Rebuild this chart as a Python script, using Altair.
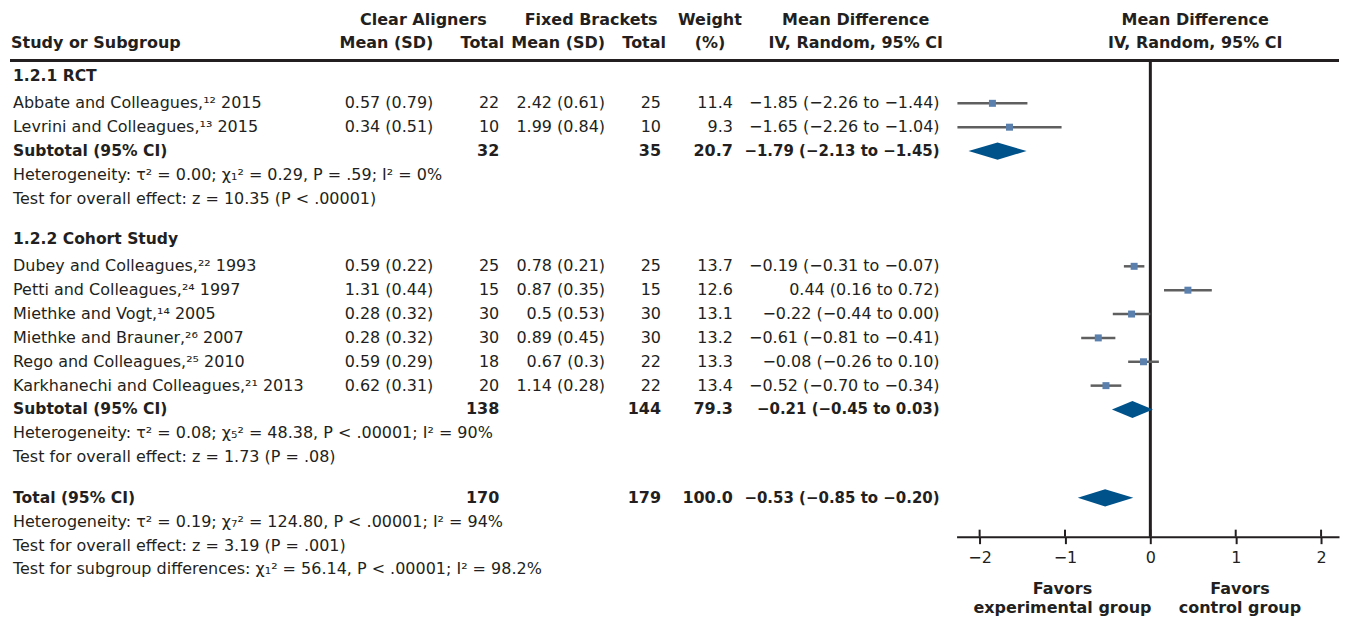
import altair as alt
import pandas as pd

# ---------------- data ----------------
study = [
    "Abbate and Colleagues,¹² 2015",
    "Levrini and Colleagues,¹³ 2015",
    "Dubey and Colleagues,²² 1993",
    "Petti and Colleagues,²⁴ 1997",
    "Miethke and Vogt,¹⁴ 2005",
    "Miethke and Brauner,²⁶ 2007",
    "Rego and Colleagues,²⁵ 2010",
    "Karkhanechi and Colleagues,²¹ 2013",
]
group = [0, 0, 1, 1, 1, 1, 1, 1]
ca_mean = [0.57, 0.34, 0.59, 1.31, 0.28, 0.28, 0.59, 0.62]
ca_sd = [0.79, 0.51, 0.22, 0.44, 0.32, 0.32, 0.29, 0.31]
ca_n = [22, 10, 25, 15, 30, 30, 18, 20]
fb_mean = [2.42, 1.99, 0.78, 0.87, 0.5, 0.89, 0.67, 1.14]
fb_sd = [0.61, 0.84, 0.21, 0.35, 0.53, 0.45, 0.3, 0.28]
fb_n = [25, 10, 25, 15, 30, 30, 22, 22]
weight = [11.4, 9.3, 13.7, 12.6, 13.1, 13.2, 13.3, 13.4]
md = [-1.85, -1.65, -0.19, 0.44, -0.22, -0.61, -0.08, -0.52]
md_lo = [-2.26, -2.26, -0.31, 0.16, -0.44, -0.81, -0.26, -0.70]
md_hi = [-1.44, -1.04, -0.07, 0.72, 0.00, -0.41, 0.10, -0.34]

section_titles = ["1.2.1 RCT", "1.2.2 Cohort Study"]
sub_labels = ["Subtotal (95% CI)", "Subtotal (95% CI)", "Total (95% CI)"]
sub_ca_n = [32, 138, 170]
sub_fb_n = [35, 144, 179]
sub_weight = [20.7, 79.3, 100.0]
sub_md = [-1.79, -0.21, -0.53]
sub_lo = [-2.13, -0.45, -0.85]
sub_hi = [-1.45, 0.03, -0.20]
stat_lines = [
    ["Heterogeneity: τ² = 0.00; χ₁² = 0.29, P = .59; I² = 0%",
     "Test for overall effect: z = 10.35 (P < .00001)"],
    ["Heterogeneity: τ² = 0.08; χ₅² = 48.38, P < .00001; I² = 90%",
     "Test for overall effect: z = 1.73 (P = .08)"],
    ["Heterogeneity: τ² = 0.19; χ₇² = 124.80, P < .00001; I² = 94%",
     "Test for overall effect: z = 3.19 (P = .001)",
     "Test for subgroup differences: χ₁² = 56.14, P < .00001; I² = 98.2%"],
]
tick_values = [-2, -1, 0, 1, 2]
favor_x = [-1.03, 1.05]
favor_l1 = ["Favors", "Favors"]
favor_l2 = ["experimental group", "control group"]

# ---------------- style / layout ----------------
FONT = "DejaVu Sans"
FS = 16
FS_BOLD_NUM = 15
INK = "#231f20"
SQUARE = "#5b80ae"
CI_COL = "#5f5f5f"
DIAMOND = "#00528a"
W, H = 1332, 529
ROW0, STEP_PX = 68.0, 23.9
HEAD_GAP, STEP, BLANK_GAP = 1.13, 1.0, 1.7
HALF = 0.36

def fmt(v):
    return f"{v:.2f}".replace("-", "−")

def mdtxt(m, l, h):
    return f"{fmt(m)} ({fmt(l)} to {fmt(h)})"

cells = []
def add(r, col, text, bold=False):
    cells.append({"r": r, "col": col, "text": text, "bold": bold})

study_r, sub_r = [], []
r = 0.0
for g in range(2):
    if g > 0:
        r += BLANK_GAP
    add(r, "study", section_titles[g], True)
    r += HEAD_GAP
    for i in range(len(study)):
        if group[i] != g:
            continue
        add(r, "study", study[i])
        add(r, "ca_msd", f"{ca_mean[i]:g} ({ca_sd[i]:g})")
        add(r, "ca_n", str(ca_n[i]))
        add(r, "fb_msd", f"{fb_mean[i]:g} ({fb_sd[i]:g})")
        add(r, "fb_n", str(fb_n[i]))
        add(r, "wt", f"{weight[i]:.1f}")
        add(r, "md", mdtxt(md[i], md_lo[i], md_hi[i]))
        study_r.append(r)
        r += STEP
    add(r, "study", sub_labels[g], True)
    add(r, "ca_n", str(sub_ca_n[g]), True)
    add(r, "fb_n", str(sub_fb_n[g]), True)
    add(r, "wt", f"{sub_weight[g]:.1f}", True)
    add(r, "md", mdtxt(sub_md[g], sub_lo[g], sub_hi[g]), True)
    sub_r.append(r)
    for line in stat_lines[g]:
        r += STEP
        add(r, "study", line)
r += BLANK_GAP
add(r, "study", sub_labels[2], True)
add(r, "ca_n", str(sub_ca_n[2]), True)
add(r, "fb_n", str(sub_fb_n[2]), True)
add(r, "wt", f"{sub_weight[2]:.1f}", True)
add(r, "md", mdtxt(sub_md[2], sub_lo[2], sub_hi[2]), True)
sub_r.append(r)
for line in stat_lines[2]:
    r += STEP
    add(r, "study", line)
last_r = r

cells_df = pd.DataFrame(cells)

# column: (x, align, bold font size)
columns = {
    "study": (4, "left", 15.6),
    "ca_msd": (425, "right", FS),
    "ca_n": (491, "right", FS),
    "fb_msd": (597, "right", FS),
    "fb_n": (653, "right", FS),
    "wt": (725, "right", FS),
    "md": (932, "right", FS_BOLD_NUM),
}

H1, H2 = -2.38, -1.38
headers = [
    ("Study or Subgroup", H2, 2, "left"),
    ("Clear Aligners", H1, 415, "center"),
    ("Mean (SD)", H2, 425, "right"),
    ("Total", H2, 496, "right"),
    ("Fixed Brackets", H1, 583, "center"),
    ("Mean (SD)", H2, 597, "right"),
    ("Total", H2, 658, "right"),
    ("Weight", H1, 702, "center"),
    ("(%)", H2, 702, "center"),
    ("Mean Difference", H1, 848, "center"),
    ("IV, Random, 95% CI", H2, 848, "center"),
    ("Mean Difference", H1, 1188, "center"),
    ("IV, Random, 95% CI", H2, 1188, "center"),
]

yscale = alt.Scale(domain=[-ROW0 / STEP_PX, (H - ROW0) / STEP_PX], reverse=True, nice=False, zero=False)
xscale = alt.Scale(domain=[-2.27, 2.21], range=[949, W], nice=False, zero=False)
xaxis = alt.Axis(values=tick_values, title=None, grid=False, domainColor=INK, domainWidth=2,
                 tickColor=INK, tickWidth=2, tickSize=7, labelFont=FONT, labelFontSize=16,
                 labelColor=INK, labelPadding=6, format="d")
Y = lambda f="r": alt.Y(f"{f}:Q", scale=yscale, axis=None)

def text_layer(df, x, align, bold, size=FS):
    return alt.Chart(df).mark_text(
        align=align, baseline="middle", font=FONT, fontSize=size,
        fontWeight="bold" if bold else "normal", color=INK
    ).encode(x=alt.value(x), y=Y(), text="text:N")

layers = []

# rule under header
layers.append(alt.Chart(pd.DataFrame({"a": [0]})).mark_rule(color=INK, strokeWidth=3).encode(
    x=alt.value(1), x2=alt.value(W), y=alt.value(52)))

# zero line
layers.append(alt.Chart(pd.DataFrame({"z": [0]})).mark_rule(color=INK, strokeWidth=3).encode(
    x=alt.X("z:Q", scale=xscale, axis=xaxis), y=alt.value(52), y2=alt.value(H)))

# upper half of ticks
layers.append(alt.Chart(pd.DataFrame({"t": tick_values})).mark_rule(color=INK, strokeWidth=2).encode(
    x=alt.X("t:Q", scale=xscale, axis=xaxis), y=alt.value(H - 7), y2=alt.value(H)))

# study CIs and squares
st_df = pd.DataFrame({"r": study_r, "md": md, "lo": md_lo, "hi": md_hi, "w": weight})
layers.append(alt.Chart(st_df).mark_rule(color=CI_COL, strokeWidth=2.5).encode(
    x=alt.X("lo:Q", scale=xscale, axis=xaxis), x2="hi:Q", y=Y()))
layers.append(alt.Chart(st_df).mark_square(color=SQUARE, opacity=1, size=49).encode(
    x=alt.X("md:Q", scale=xscale, axis=xaxis), y=Y()))

# diamonds
dia = []
for k in range(3):
    rr = sub_r[k]
    dia.append({"id": k, "x": sub_lo[k], "y": rr, "y2": rr})
    dia.append({"id": k, "x": sub_md[k], "y": rr - HALF, "y2": rr + HALF})
    dia.append({"id": k, "x": sub_hi[k], "y": rr, "y2": rr})
layers.append(alt.Chart(pd.DataFrame(dia)).mark_area(orient="vertical", color=DIAMOND, opacity=1).encode(
    x=alt.X("x:Q", scale=xscale, axis=xaxis), y=Y("y"), y2="y2:Q", detail="id:N"))

# table text
for col, (x, align, bsize) in columns.items():
    for bold in (True, False):
        sub = cells_df[(cells_df["col"] == col) & (cells_df["bold"] == bold)]
        if len(sub):
            layers.append(text_layer(sub[["r", "text"]], x, align, bold, bsize if bold else FS))

# headers
for text, rr, x, align in headers:
    layers.append(text_layer(pd.DataFrame({"r": [rr], "text": [text]}), x, align, True))

# favors labels
fav = pd.DataFrame({"x": favor_x * 2, "r": [last_r + 0.82] * 2 + [last_r + 1.63] * 2,
                    "text": favor_l1 + favor_l2})
layers.append(alt.Chart(fav).mark_text(align="center", baseline="middle", font=FONT, fontSize=FS,
                                        fontWeight="bold", color=INK).encode(
    x=alt.X("x:Q", scale=xscale, axis=xaxis), y=Y(), text="text:N"))

chart = alt.layer(*layers).properties(width=W, height=H, padding=0).configure_view(stroke=None)
chart.save("out.html", embed_options={"renderer": "svg", "actions": False})
